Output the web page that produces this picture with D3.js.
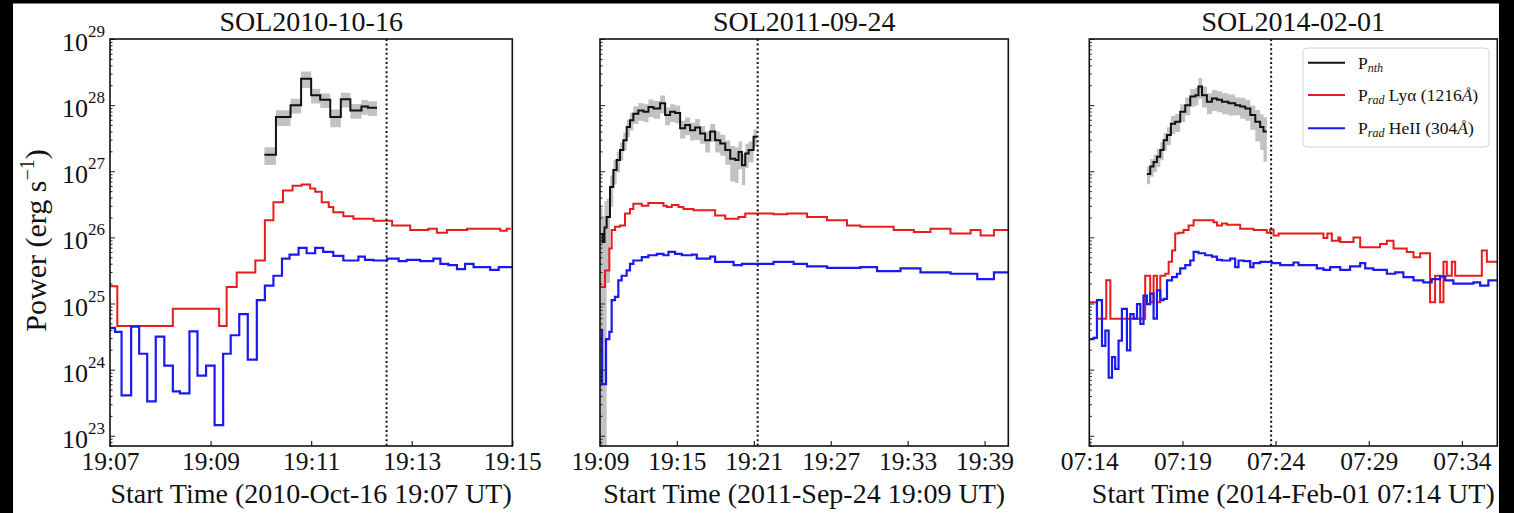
<!DOCTYPE html>
<html><head><meta charset="utf-8">
<script src="https://cdn.jsdelivr.net/npm/d3@7"></script>
<style>
body{margin:0;background:#000;}
svg{display:block;}
text{font-family:"Liberation Serif","Times New Roman",serif;fill:#111;}
</style>
</head><body>
<svg id="chart" width="1514" height="513"></svg>
<script>
// ---------------- DATA (times in minutes after panel start; powers as log10 erg/s) ----------------
const titles = ["SOL2010-10-16", "SOL2011-09-24", "SOL2014-02-01"];
const xLabels = ["Start Time (2010-Oct-16 19:07 UT)", "Start Time (2011-Sep-24 19:09 UT)", "Start Time (2014-Feb-01 07:14 UT)"];
const xEnd = [8, 31.85, 21.9];
const tickMin1 = [0, 2, 4, 6, 8];
const tickLab1 = ["19:07", "19:09", "19:11", "19:13", "19:15"];
const tickMin2 = [0, 6, 12, 18, 24, 30];
const tickLab2 = ["19:09", "19:15", "19:21", "19:27", "19:33", "19:39"];
const tickMin3 = [0, 5, 10, 15, 20];
const tickLab3 = ["07:14", "07:19", "07:24", "07:29", "07:34"];
const yExponents = [23, 24, 25, 26, 27, 28, 29];
const flareMin = [5.5, 12.3, 9.76];
const legendLabels = [["P", "nth", ""], ["P", "rad", " Lyα (1216", "Å", ")"], ["P", "rad", " HeII (304", "Å", ")"]];

// Panel 1
const p1BlackEdges = [3.07, 3.30, 3.59, 3.80, 4.0, 4.18, 4.38, 4.59, 4.78, 5.0, 5.13, 5.31];
const p1BlackLog = [27.25, 27.82, 28.0, 28.40, 28.15, 28.08, 27.82, 28.09, 27.92, 27.98, 27.96];
const p1BlackErr = [0.3, 0.27, 0.25, 0.28, 0.25, 0.25, 0.3, 0.25, 0.25, 0.25, 0.25];
const p1RedEdges = [0, 0.145, 1.25, 2.17, 2.32, 2.52, 2.89, 3.08, 3.25, 3.44, 3.63, 3.81, 3.98, 4.08, 4.21, 4.35, 4.44, 4.64, 4.84, 5.24, 5.61, 5.97, 6.33, 6.50, 6.70, 7.10, 7.76, 7.89, 7.97];
const p1RedLog = [25.26, 24.66, 24.92, 24.66, 25.25, 25.47, 25.65, 26.26, 26.53, 26.71, 26.78, 26.80, 26.74, 26.69, 26.53, 26.46, 26.38, 26.32, 26.28, 26.25, 26.18, 26.11, 26.13, 26.07, 26.11, 26.13, 26.10, 26.13];
const p1BlueEdges = [0, 0.10, 0.23, 0.42, 0.58, 0.74, 0.91, 1.08, 1.25, 1.39, 1.58, 1.74, 1.91, 2.08, 2.25, 2.40, 2.57, 2.74, 2.92, 3.08, 3.25, 3.42, 3.57, 3.75, 3.91, 4.08, 4.24, 4.44, 4.64, 4.94, 5.07, 5.24, 5.51, 5.74, 5.90, 6.17, 6.43, 6.57, 6.73, 6.90, 7.06, 7.23, 7.56, 7.73, 8.0];
const p1BlueLog = [24.63, 24.57, 23.61, 24.65, 24.24, 23.52, 24.50, 24.06, 23.67, 23.64, 24.58, 23.91, 24.06, 23.16, 24.24, 24.52, 24.84, 24.15, 25.05, 25.27, 25.42, 25.68, 25.74, 25.84, 25.76, 25.84, 25.78, 25.72, 25.65, 25.71, 25.66, 25.65, 25.68, 25.64, 25.66, 25.64, 25.68, 25.60, 25.58, 25.52, 25.60, 25.55, 25.51, 25.55];

// Panel 2
const p2BlackEdges = [0, 0.2, 0.35, 0.52, 0.78, 1.04, 1.30, 1.56, 1.82, 2.08, 2.34, 2.60, 2.99, 3.39, 3.78, 4.17, 4.69, 5.08, 5.47, 5.86, 6.25, 6.64, 7.03, 7.42, 7.81, 8.20, 8.59, 8.98, 9.38, 9.77, 10.16, 10.55, 10.81, 11.07, 11.33, 11.59, 11.98, 12.24];
const p2BlackLog = [26.05, 25.93, 26.15, 26.31, 26.76, 27.02, 27.17, 27.32, 27.47, 27.67, 27.77, 27.87, 27.92, 27.90, 27.97, 27.95, 28.03, 27.85, 27.90, 27.88, 27.65, 27.70, 27.62, 27.66, 27.57, 27.47, 27.60, 27.47, 27.42, 27.32, 27.19, 27.17, 27.29, 27.09, 27.27, 27.32, 27.52];
const p2BlackErr = [1.5, 1.5, 1.5, 0.9, 0.5, 0.4, 0.35, 0.3, 0.3, 0.3, 0.3, 0.3, 0.3, 0.3, 0.3, 0.3, 0.3, 0.3, 0.3, 0.3, 0.3, 0.3, 0.3, 0.35, 0.3, 0.35, 0.3, 0.35, 0.35, 0.4, 0.55, 0.55, 0.45, 0.5, 0.4, 0.35, 0.3];
const p2RedEdges = [0, 0.39, 0.73, 0.91, 1.17, 1.56, 1.95, 2.34, 2.60, 3.26, 3.77, 4.95, 5.21, 5.60, 6.12, 6.51, 7.29, 8.98, 9.77, 10.80, 11.33, 12.24, 13.54, 14.59, 16.15, 17.71, 19.27, 20.31, 22.91, 24.48, 25.78, 27.34, 28.91, 29.69, 30.73, 31.85];
const p2RedLog = [25.25, 25.5, 25.83, 26.11, 26.16, 26.18, 26.36, 26.43, 26.51, 26.48, 26.52, 26.48, 26.46, 26.49, 26.46, 26.43, 26.41, 26.33, 26.28, 26.31, 26.36, 26.36, 26.35, 26.36, 26.31, 26.26, 26.18, 26.16, 26.11, 26.08, 26.13, 26.06, 26.11, 26.03, 26.11];
const p2BlueEdges = [0, 0.16, 0.47, 0.73, 0.91, 1.17, 1.43, 1.69, 2.08, 2.34, 2.60, 3.26, 3.77, 4.43, 4.95, 5.34, 5.86, 6.38, 7.16, 7.55, 8.59, 8.98, 10.42, 11.07, 12.24, 13.54, 15.10, 16.15, 17.71, 20.31, 21.61, 23.44, 25.0, 27.34, 29.43, 30.73, 31.85];
const p2BlueLog = [24.6, 23.78, 24.46, 24.57, 25.05, 25.1, 25.35, 25.42, 25.5, 25.6, 25.65, 25.70, 25.73, 25.75, 25.73, 25.78, 25.75, 25.73, 25.74, 25.68, 25.71, 25.63, 25.58, 25.60, 25.60, 25.63, 25.60, 25.56, 25.54, 25.55, 25.49, 25.53, 25.47, 25.45, 25.37, 25.47];

// Panel 3
const p3BlackEdges = [3.09, 3.27, 3.45, 3.63, 3.81, 3.99, 4.17, 4.38, 4.61, 4.88, 5.15, 5.42, 5.69, 5.86, 6.05, 6.31, 6.58, 6.85, 7.12, 7.47, 7.83, 8.10, 8.37, 8.64, 8.91, 9.17, 9.35, 9.53];
const p3BlackLog = [26.96, 27.07, 27.14, 27.22, 27.32, 27.47, 27.55, 27.72, 27.75, 27.90, 28.0, 28.13, 28.15, 28.28, 28.15, 28.05, 28.10, 28.08, 28.05, 28.03, 28.0, 27.98, 27.95, 27.85, 27.75, 27.67, 27.60];
const p3BlackErr = [0.3, 0.3, 0.3, 0.3, 0.3, 0.3, 0.3, 0.3, 0.3, 0.3, 0.3, 0.3, 0.3, 0.35, 0.35, 0.35, 0.35, 0.35, 0.35, 0.35, 0.3, 0.35, 0.35, 0.4, 0.5, 0.55, 0.65];
const p3RedEdges = [0, 0.41, 0.91, 1.13, 3.00, 3.27, 3.45, 3.63, 3.81, 4.08, 4.26, 4.44, 4.61, 4.79, 5.06, 5.33, 5.60, 6.67, 6.85, 7.12, 7.39, 8.10, 8.81, 9.53, 9.71, 9.89, 10.16, 12.57, 12.78, 13.02, 13.37, 13.47, 14.18, 14.54, 15.61, 15.97, 16.33, 17.04, 17.40, 17.76, 18.29, 18.56, 18.83, 19.01, 19.19, 19.46, 19.64, 21.07, 21.34, 21.9];
const p3RedLog = [25.02, 24.77, 25.35, 24.77, 25.42, 25.02, 25.42, 25.02, 25.42, 25.45, 25.63, 25.80, 26.06, 26.07, 26.11, 26.18, 26.26, 26.23, 26.18, 26.21, 26.19, 26.13, 26.11, 26.07, 26.12, 26.03, 26.06, 25.99, 26.06, 25.95, 26.0, 25.93, 26.0, 25.85, 25.90, 25.95, 25.83, 25.78, 25.70, 25.76, 25.02, 25.42, 25.02, 25.63, 25.42, 25.63, 25.42, 25.80, 25.63];
const p3BlueEdges = [0, 0.23, 0.41, 0.68, 0.86, 1.04, 1.22, 1.39, 1.57, 1.75, 2.02, 2.20, 2.38, 2.56, 2.74, 2.91, 3.09, 3.27, 3.45, 3.63, 3.81, 3.99, 4.17, 4.44, 4.70, 4.88, 5.15, 5.42, 5.60, 5.86, 6.22, 6.58, 6.85, 7.12, 7.56, 7.83, 8.01, 8.28, 8.64, 8.81, 9.17, 9.80, 10.25, 10.96, 11.23, 12.21, 12.57, 12.93, 13.47, 14.00, 14.54, 14.81, 15.25, 15.97, 16.42, 16.86, 17.40, 17.93, 18.38, 18.83, 19.10, 19.54, 20.62, 20.98, 21.42, 21.9];
const p3BlueLog = [24.46, 24.48, 25.05, 24.36, 24.59, 23.88, 24.19, 24.01, 24.44, 24.92, 24.29, 24.84, 24.77, 24.99, 24.69, 25.12, 24.99, 25.15, 24.77, 25.20, 25.05, 25.07, 25.35, 25.40, 25.45, 25.53, 25.58, 25.65, 25.78, 25.76, 25.73, 25.71, 25.66, 25.65, 25.68, 25.55, 25.65, 25.64, 25.55, 25.61, 25.63, 25.61, 25.58, 25.62, 25.58, 25.53, 25.51, 25.55, 25.51, 25.56, 25.61, 25.53, 25.51, 25.45, 25.47, 25.40, 25.35, 25.32, 25.37, 25.41, 25.35, 25.30, 25.32, 25.27, 25.35];

// ---------------- DRAWING ----------------
const svg = d3.select("#chart");
const RED = "#e81c1c", BLUE = "#1a1aee";
svg.append("rect").attr("x", 0).attr("y", 0).attr("width", 1514).attr("height", 513).attr("fill", "#fff");

const TOP = 39, BOT = 446;
const y = d3.scaleLog().domain([7e22, 1e29]).range([BOT, TOP]);
const panels = [
  {L: 110, R: 512.3, ticks: tickMin1, labs: tickLab1,
   black: [p1BlackEdges, p1BlackLog, p1BlackErr], red: [p1RedEdges, p1RedLog], blue: [p1BlueEdges, p1BlueLog]},
  {L: 600, R: 1008.3, ticks: tickMin2, labs: tickLab2,
   black: [p2BlackEdges, p2BlackLog, p2BlackErr], red: [p2RedEdges, p2RedLog], blue: [p2BlueEdges, p2BlueLog]},
  {L: 1089.3, R: 1497.3, ticks: tickMin3, labs: tickLab3,
   black: [p3BlackEdges, p3BlackLog, p3BlackErr], red: [p3RedEdges, p3RedLog], blue: [p3BlueEdges, p3BlueLog]}
];

function stepPts(edges, logs, errs) {
  const n = Math.min(logs.length, edges.length - 1);
  const pts = [];
  for (let i = 0; i < n; i++) {
    const v = Math.pow(10, logs[i]);
    const e = errs ? errs[i] : 0;
    pts.push({t: edges[i], v: v, lo: v * (1 - e), hi: v * (1 + e)});
  }
  const last = pts[pts.length - 1];
  pts.push({t: edges[n], v: last.v, lo: last.lo, hi: last.hi});
  return pts;
}

const yMin = y.domain()[0];
const majors = yExponents.map(e => Math.pow(10, e));
const minors = [];
for (let e = 22; e < 29; e++) for (let m = 2; m <= 9; m++) { const v = m * Math.pow(10, e); if (v >= yMin && v <= 1e29) minors.push(v); }

panels.forEach((p, i) => {
  const x = d3.scaleLinear().domain([0, xEnd[i]]).range([p.L, p.R]);
  const g = svg.append("g");
  const clipId = "clip" + i;
  svg.append("defs").append("clipPath").attr("id", clipId)
    .append("rect").attr("x", p.L).attr("y", TOP).attr("width", p.R - p.L).attr("height", BOT - TOP);
  const plot = g.append("g").attr("clip-path", `url(#${clipId})`);

  // uncertainty band
  const bp = stepPts(p.black[0], p.black[1], p.black[2]);
  const area = d3.area().curve(d3.curveStepAfter)
    .x(d => x(d.t)).y0(d => y(Math.max(d.lo, yMin * 0.5))).y1(d => y(d.hi));
  plot.append("path").attr("d", area(bp)).attr("fill", "#c2c2c2").attr("stroke", "none");

  const line = d3.line().curve(d3.curveStepAfter).x(d => x(d.t)).y(d => y(d.v));
  plot.append("path").attr("d", line(stepPts(p.red[0], p.red[1]))).attr("fill", "none").attr("stroke", RED).attr("stroke-width", 2);
  plot.append("path").attr("d", line(stepPts(p.blue[0], p.blue[1]))).attr("fill", "none").attr("stroke", BLUE).attr("stroke-width", 2.2);
  plot.append("path").attr("d", line(bp)).attr("fill", "none").attr("stroke", "#111").attr("stroke-width", 2);

  // flare time dotted line
  plot.append("line").attr("x1", x(flareMin[i])).attr("x2", x(flareMin[i])).attr("y1", TOP).attr("y2", BOT)
    .attr("stroke", "#111").attr("stroke-width", 2).attr("stroke-dasharray", "2,2.6");

  // y axis ticks (inward)
  const yMinor = d3.axisLeft(y).tickValues(minors).tickSize(-2.5).tickFormat("");
  const yMajor = d3.axisLeft(y).tickValues(majors).tickSize(-5).tickFormat("");
  [yMinor, yMajor].forEach(ax => {
    const a = g.append("g").attr("transform", `translate(${p.L},0)`).call(ax);
    a.select(".domain").remove();
    a.selectAll("line").attr("stroke", "#222").attr("stroke-width", 1);
  });

  // x axis
  const xa = g.append("g").attr("transform", `translate(0,${BOT})`)
    .call(d3.axisBottom(x).tickValues(p.ticks).tickSize(-5).tickPadding(6).tickFormat((d, k) => p.labs[k]));
  xa.select(".domain").remove();
  xa.selectAll("line").attr("stroke", "#222").attr("stroke-width", 1.2);
  xa.selectAll("text").attr("font-size", 25.5).attr("fill", "#111")
    .style("font-family", '"Liberation Serif","Times New Roman",serif');

  // frame
  g.append("rect").attr("x", p.L).attr("y", TOP).attr("width", p.R - p.L).attr("height", BOT - TOP)
    .attr("fill", "none").attr("stroke", "#111").attr("stroke-width", 1.6);

  // title and x label
  g.append("text").attr("x", (p.L + p.R) / 2).attr("y", 31).attr("text-anchor", "middle")
    .attr("font-size", 28).text(titles[i]);
  g.append("text").attr("x", (p.L + p.R) / 2).attr("y", 503).attr("text-anchor", "middle")
    .attr("font-size", 28).text(xLabels[i]);

  // y tick labels on first panel only
  if (i === 0) {
    yExponents.forEach(e => {
      const ty = y(Math.pow(10, e));
      const t = g.append("text").attr("x", 105).attr("y", ty + 12).attr("text-anchor", "end");
      t.append("tspan").attr("font-size", 26).text("10");
      t.append("tspan").attr("font-size", 17).attr("dy", -14).text(String(e));
    });
    const yl = g.append("text").attr("transform", `translate(46,${(TOP + BOT) / 2 - 2}) rotate(-90)`)
      .attr("text-anchor", "middle").attr("font-size", 30);
    yl.append("tspan").text("Power (erg s");
    yl.append("tspan").attr("font-size", 20).attr("dy", -12).text("−1");
    yl.append("tspan").attr("dy", 12).text(")");
  }

  // legend on third panel
  if (i === 2) {
    const lg = g.append("g");
    lg.append("rect").attr("x", 1303).attr("y", 48).attr("width", 186).attr("height", 99).attr("rx", 4)
      .attr("fill", "#fff").attr("fill-opacity", 0.85).attr("stroke", "#d6d6d6").attr("stroke-width", 1);
    const cols = ["#111", RED, BLUE];
    const rows = [62.7, 95, 128.3];
    legendLabels.forEach((lab, k) => {
      lg.append("line").attr("x1", 1308).attr("x2", 1345).attr("y1", rows[k]).attr("y2", rows[k])
        .attr("stroke", cols[k]).attr("stroke-width", 2);
      const t = lg.append("text").attr("x", 1358).attr("y", rows[k] + 6).attr("font-size", 17.5);
      t.append("tspan").text(lab[0]);
      t.append("tspan").attr("font-size", 12).attr("font-style", "italic").attr("dy", 3).text(lab[1]);
      if (lab.length > 2 && lab[2]) {
        t.append("tspan").attr("dy", -3).text(lab[2]);
        t.append("tspan").attr("font-style", "italic").text(lab[3]);
        t.append("tspan").text(lab[4]);
      }
    });
  }
});

// black margins of the original picture
svg.append("rect").attr("x", 0).attr("y", 0).attr("width", 13).attr("height", 513).attr("fill", "#000");
svg.append("rect").attr("x", 0).attr("y", 0).attr("width", 1514).attr("height", 3.5).attr("fill", "#000");
svg.append("rect").attr("x", 1499).attr("y", 0).attr("width", 15).attr("height", 513).attr("fill", "#000");
</script>
</body></html>
